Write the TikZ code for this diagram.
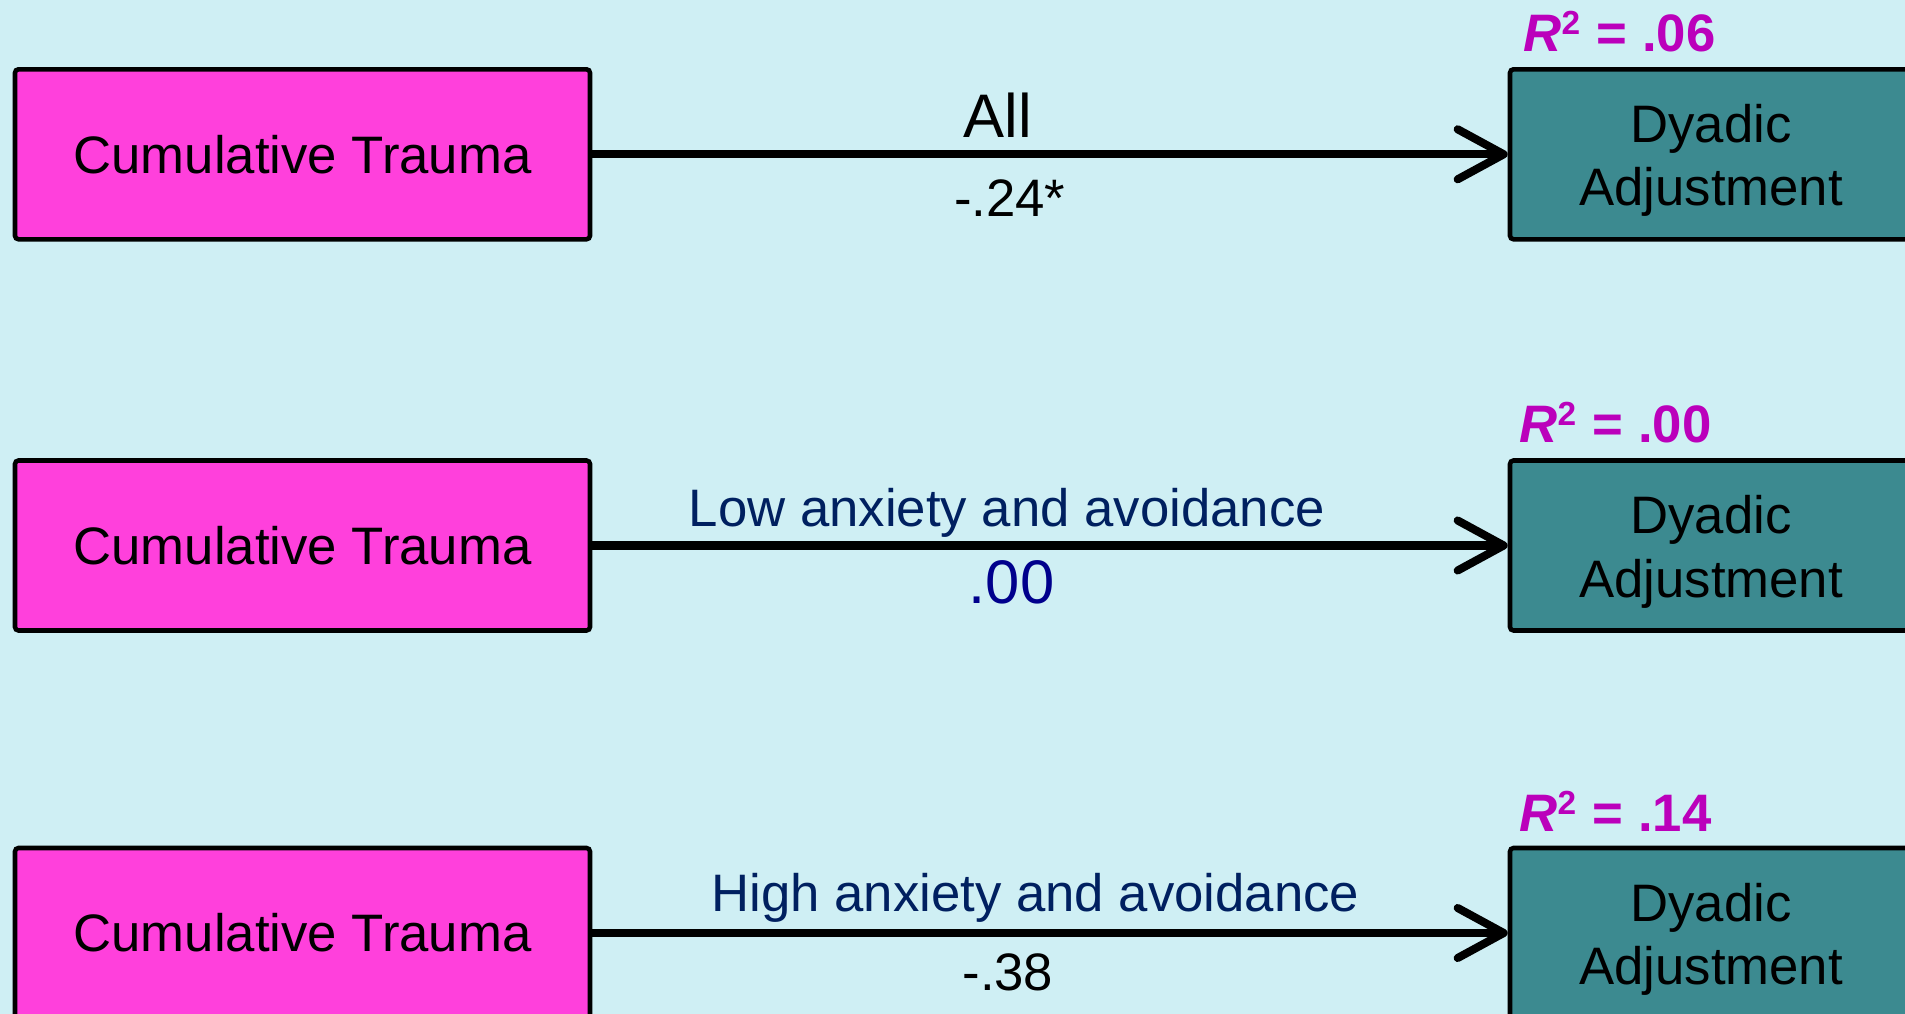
\documentclass[tikz,border=0pt]{standalone}
\usepackage{fontspec}
\setmainfont{Liberation Sans}
\usepackage{tikz}
\usetikzlibrary{arrows.meta, positioning}
\definecolor{bgcyan}{RGB}{207,239,244}
\definecolor{traumapink}{RGB}{255,64,220}
\definecolor{dyadteal}{RGB}{60,138,144}
\definecolor{rsqmagenta}{RGB}{187,0,187}
\definecolor{groupnavy}{RGB}{0,32,96}
\definecolor{coefblue}{RGB}{0,0,140}
\newcommand{\dyadtext}{\rule{0pt}{14.5pt}Dyadic\\Adjustment}
\newcommand{\rsq}[1]{\textit{R}\raisebox{0.17cm}{\fontsize{9.5}{10}\selectfont 2}\hspace{0.02cm} = #1}

\begin{document}
\begin{tikzpicture}
  [
    Trauma/.style={rectangle, draw=black, fill=traumapink, line width=1.3pt, rounded corners=1pt, minimum width=5.75cm, minimum height=1.7cm, font=\fontsize{15}{18}\selectfont},
    Dyadic/.style={rectangle, draw=black, fill=dyadteal, line width=1.3pt, rounded corners=1pt, minimum width=4.02cm, minimum height=1.7cm, align=center, font=\fontsize{15}{18}\selectfont},
    Rsq/.style={inner sep=0pt, text=rsqmagenta, font=\fontsize{15}{18}\selectfont\bfseries},
    Path/.style={-{Straight Barb[length=4.6mm, width=5mm, round]}, draw, line width=2.3pt},
    Group/.style={text=groupnavy, font=\fontsize{15}{18}\selectfont},
    Coef/.style={font=\fontsize{15}{18}\selectfont}
  ]
  % Background
  \fill[bgcyan] (0, 0) rectangle (19.05, -10.14);
  \useasboundingbox (0, 0) rectangle (19.05, -10.14);
  % Nodes
  \node[Trauma] (ct1) at(3.025, -1.543) {Cumulative Trauma};
  \node[Trauma] (ct2) at(3.025, -5.455) {Cumulative Trauma};
  \node[Trauma] (ct3) at(3.025, -9.33) {Cumulative Trauma};
  \node[Dyadic] (da1) at(17.11, -1.543) {\dyadtext};
  \node[Dyadic] (da2) at(17.11, -5.455) {\dyadtext};
  \node[Dyadic] (da3) at(17.11, -9.33) {\dyadtext};
  \node[Rsq, above right=0.14cm and 0.15cm of da1.north west] (r1) {\rsq{.06}};
  \node[Rsq, above right=0.14cm and 0.11cm of da2.north west] (r2) {\rsq{.00}};
  \node[Rsq, above right=0.14cm and 0.11cm of da3.north west] (r3) {\rsq{.14}};
  % Lines
  \path [Path] (ct1) -- (da1)
    node[pos=.443, yshift=0.39cm, font=\fontsize{17.5}{20}\selectfont] (g1) {All}
    node[Coef, pos=.456, yshift=-0.44cm] (b1) {-.24*};
  \path [Path] (ct2) -- (da2)
    node[Group, pos=.453, yshift=0.325cm] (g2) {Low anxiety and avoidance}
    node[pos=.458, yshift=-0.37cm, text=coefblue, font=\fontsize{17.5}{20}\selectfont] (b2) {.00};
  \path [Path] (ct3) -- (da3)
    node[Group, pos=.484, yshift=0.355cm] (g3) {High anxiety and avoidance}
    node[Coef, pos=.454, yshift=-0.39cm] (b3) {-.38};
\end{tikzpicture}
\end{document}
